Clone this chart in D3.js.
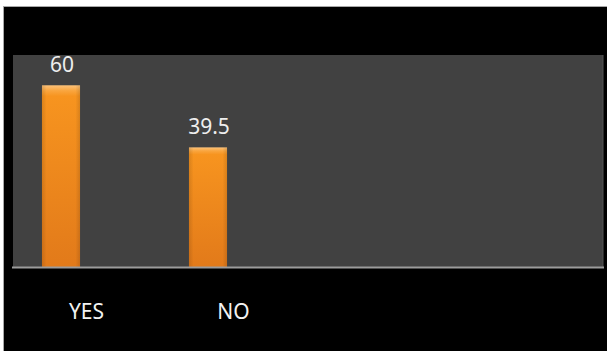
<!DOCTYPE html>
<html>
<head>
<meta charset="utf-8">
<script src="https://cdn.jsdelivr.net/npm/d3@7"></script>
<style>
  html, body { margin: 0; padding: 0; background: #ffffff; }
  svg { display: block; }
</style>
</head>
<body>
<svg id="chart" width="607" height="351"></svg>
<script>
// Survey answers and their percentages
const categories = ["YES", "NO"];
const values = [60, 39.5];
const valueLabels = ["60", "39.5"];
const yDomain = [0, 70];

const W = 607, H = 351;
const frame = { left: 4, top: 7 };
const plot = { left: 13, top: 55, right: 603, bottom: 267 };

const svg = d3.select("#chart");

// outer white margin with thin grey rule, then black chart background
svg.append("rect").attr("x", 0).attr("y", 0).attr("width", W).attr("height", H).attr("fill", "#ffffff");
svg.append("rect").attr("x", frame.left - 1).attr("y", frame.top - 1)
  .attr("width", W - frame.left + 1).attr("height", H - frame.top + 1).attr("fill", "#a8a8a8");
svg.append("rect").attr("x", frame.left).attr("y", frame.top)
  .attr("width", W - frame.left).attr("height", H - frame.top).attr("fill", "#000000");

// plot area
svg.append("rect").attr("x", plot.left).attr("y", plot.top)
  .attr("width", plot.right - plot.left).attr("height", plot.bottom - plot.top)
  .attr("fill", "#414141");
svg.append("line").attr("x1", plot.right).attr("x2", plot.right)
  .attr("y1", plot.top).attr("y2", plot.bottom).attr("stroke", "#555555").attr("stroke-width", 1);

const y = d3.scaleLinear().domain(yDomain).range([plot.bottom, plot.top]);
const x = d3.scaleBand().domain(categories)
  .range([plot.left, plot.left + 243])
  .paddingInner(0.741).paddingOuter(0.197);

// bar gradient
const defs = svg.append("defs");
const grad = defs.append("linearGradient").attr("id", "barGrad")
  .attr("x1", 0).attr("y1", 0).attr("x2", 0).attr("y2", 1);
grad.append("stop").attr("offset", "0%").attr("stop-color", "#fcc27a");
grad.append("stop").attr("offset", "3%").attr("stop-color", "#f9a53e");
grad.append("stop").attr("offset", "6%").attr("stop-color", "#f7941f");
grad.append("stop").attr("offset", "100%").attr("stop-color", "#e27a1a");

const side = defs.append("linearGradient").attr("id", "barSide")
  .attr("x1", 0).attr("y1", 0).attr("x2", 1).attr("y2", 0);
side.append("stop").attr("offset", "0%").attr("stop-color", "#000").attr("stop-opacity", 0.12);
side.append("stop").attr("offset", "12%").attr("stop-color", "#000").attr("stop-opacity", 0);
side.append("stop").attr("offset", "88%").attr("stop-color", "#000").attr("stop-opacity", 0);
side.append("stop").attr("offset", "100%").attr("stop-color", "#000").attr("stop-opacity", 0.12);

const data = categories.map((c, i) => ({ cat: c, value: values[i], label: valueLabels[i] }));

const bars = svg.append("g");
bars.selectAll("rect.bar").data(data).join("rect").attr("class", "bar")
  .attr("x", d => x(d.cat)).attr("y", d => y(d.value))
  .attr("width", x.bandwidth()).attr("height", d => y(0) - y(d.value))
  .attr("fill", "url(#barGrad)");
bars.selectAll("rect.shade").data(data).join("rect").attr("class", "shade")
  .attr("x", d => x(d.cat)).attr("y", d => y(d.value))
  .attr("width", x.bandwidth()).attr("height", d => y(0) - y(d.value))
  .attr("fill", "url(#barSide)");

// value labels
svg.append("g").selectAll("text").data(data).join("text")
  .attr("x", d => x(d.cat) + x.bandwidth() / 2 + 1)
  .attr("y", d => y(d.value) - 13)
  .attr("text-anchor", "middle")
  .attr("font-family", "'Noto Sans', 'Open Sans', sans-serif")
  .attr("font-size", 21)
  .attr("fill", "#eeeeee")
  .text(d => d.label);

// category axis
const xAxis = d3.axisBottom(x).tickSize(0).tickPadding(0);
const axisG = svg.append("g").attr("transform", `translate(0,${plot.bottom})`).call(xAxis);
axisG.select(".domain").remove();
svg.append("line").attr("x1", plot.left - 1).attr("x2", plot.right + 1)
  .attr("y1", plot.bottom + 0.5).attr("y2", plot.bottom + 0.5)
  .attr("stroke", "#9c9c9c").attr("stroke-width", 2);

axisG.selectAll(".tick text")
  .attr("dx", 25.5)
  .attr("y", 52)
  .attr("dy", 0)
  .attr("font-family", "'Noto Sans', 'Open Sans', sans-serif")
  .attr("font-size", 21)
  .attr("fill", "#f2f2f2");
</script>
</body>
</html>
